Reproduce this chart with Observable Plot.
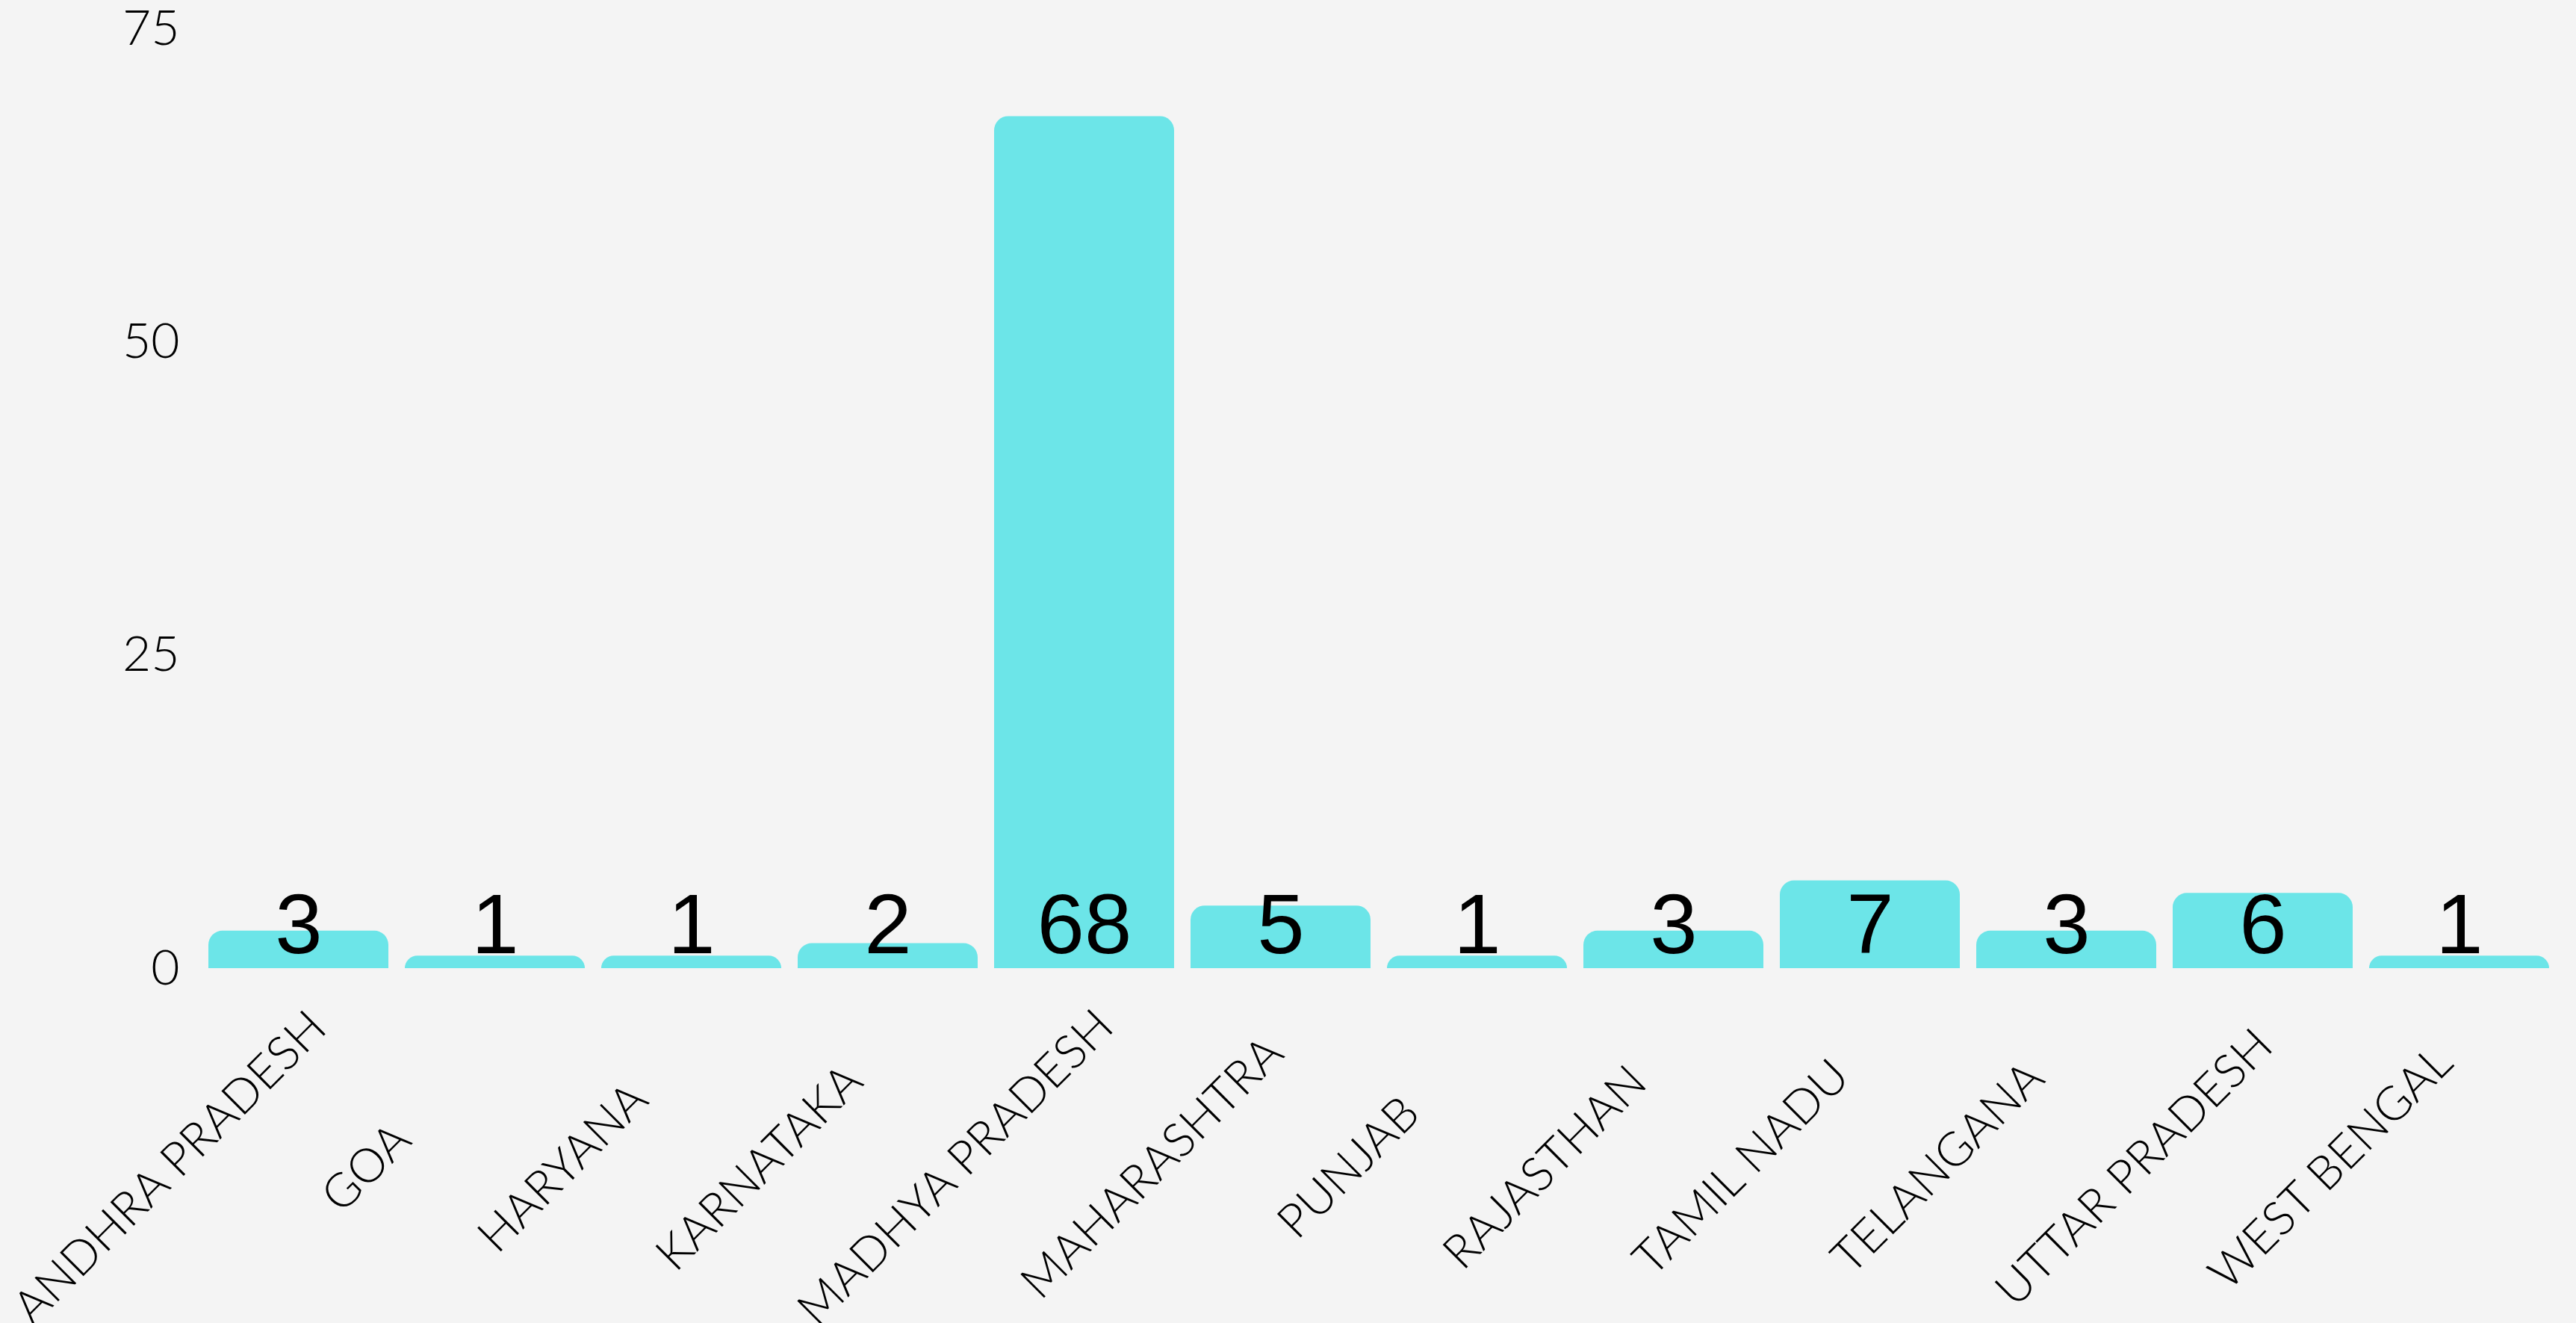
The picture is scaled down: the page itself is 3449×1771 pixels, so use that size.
<!DOCTYPE html>
<html>
<head>
<meta charset="utf-8">
<script src="https://cdn.jsdelivr.net/npm/d3@7"></script>
<script src="https://cdn.jsdelivr.net/npm/@observablehq/plot@0.6"></script>
<style>
  html, body { margin: 0; padding: 0; background: #f4f4f4; overflow: hidden; }
  #chart svg { display: block; }
</style>
</head>
<body>
<div id="chart"></div>
<script>
const states = ["ANDHRA PRADESH", "GOA", "HARYANA", "KARNATAKA", "MADHYA PRADESH", "MAHARASHTRA", "PUNJAB", "RAJASTHAN", "TAMIL NADU", "TELANGANA", "UTTAR PRADESH", "WEST BENGAL"];
const counts = [3, 1, 1, 2, 68, 5, 1, 3, 7, 3, 6, 1];
const yTicks = [0, 25, 50, 75];

const data = states.map((s, i) => ({state: s, count: counts[i]}));

const chart = Plot.plot({
  width: 3449,
  height: 1771,
  marginTop: 38,
  marginBottom: 475,
  marginLeft: 262,
  marginRight: 19,
  style: {background: "#f4f4f4", color: "#000"},
  x: {domain: states, paddingInner: 0.0833, paddingOuter: 0.0417, axis: null},
  y: {domain: [0, 75], axis: null},
  marks: [
    Plot.barY(data, {x: "state", y: "count", fill: "#6ce5e8", ry1: 19}),
    Plot.axisY({ticks: yTicks, tickSize: 0, tickPadding: 22, fontSize: 66, fontFamily: "Lato", fontWeight: 300, fill: "#000", label: null}),
    Plot.text(data, {x: "state", text: d => String(d.count), frameAnchor: "bottom", lineAnchor: "bottom", dy: -21, fontSize: 114, fontFamily: "Liberation Sans, Arial, sans-serif", fill: "#000"}),
    Plot.text(data, {x: "state", text: "state", frameAnchor: "bottom", rotate: -45, textAnchor: "middle", lineAnchor: "middle", dx: -172, dy: 267, fontSize: 63, fontFamily: "Lato", fontWeight: 300, fill: "#000"})
  ]
});
document.getElementById("chart").appendChild(chart);
</script>
</body>
</html>
